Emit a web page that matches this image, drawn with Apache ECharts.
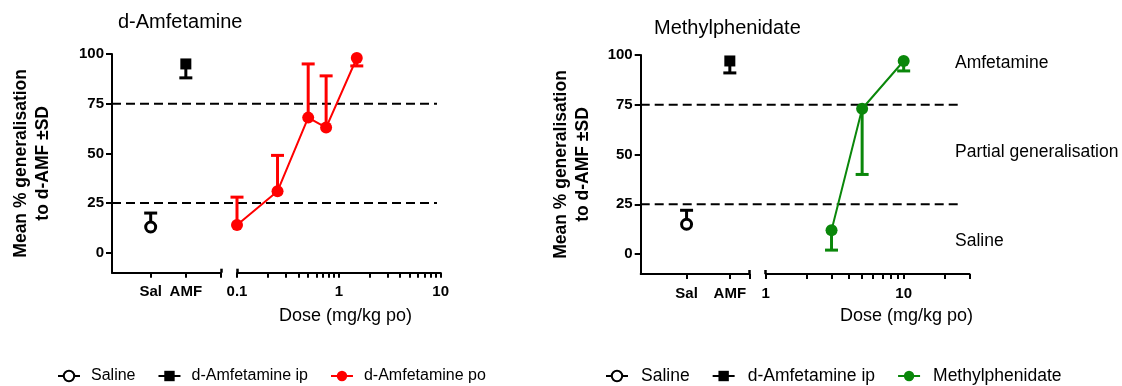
<!DOCTYPE html>
<html><head><meta charset="utf-8">
<script src="https://cdn.jsdelivr.net/npm/echarts@6/dist/echarts.min.js"></script>
<style>html,body{margin:0;padding:0;background:#fff}#c{width:1122px;height:386px}</style>
</head><body><div id="c"></div>
<script>
// ---- data ----
const controlCats = ['Sal', 'AMF'];
const leftControlMean = [13, 95];
const leftControlErrEnd = [20, 88];
const amfPoDoses = [0.1, 0.25, 0.5, 0.75, 1.5];
const amfPoMean = [14, 31, 68, 63, 98];
const amfPoErrEnd = [28, 49, 95, 89, 94];
const rightControlMean = [15, 97];
const rightControlErrEnd = [22, 91];
const mphDoses = [3, 5, 10];
const mphMean = [12, 73, 97];
const mphErrEnd = [2, 40, 92];
const thresholds = [25, 75];
const yTicks = [0, 25, 50, 75, 100];
const leftLogTicks = [0.1, 0.2, 0.3, 0.4, 0.5, 0.6, 0.7, 0.8, 0.9, 1, 2, 3, 4, 5, 6, 7, 8, 9, 10];
const leftLogLabels = [0.1, 1, 10];
const rightLogTicks = [1, 2, 3, 4, 5, 6, 7, 8, 9, 10, 20, 30];
const rightLogLabels = [1, 10];
const zoneLabels = ['Amfetamine', 'Partial generalisation', 'Saline'];
const yName = 'Mean % generalisation\nto d-AMF ±SD';
const xName = 'Dose (mg/kg po)';

const FONT = '"Liberation Sans", Arial, Helvetica, sans-serif';
const RED = '#ff0000';
const GREEN = '#0a870a';

const option = {
  animation: false, backgroundColor: '#fff',
  grid: [], xAxis: [], yAxis: [], series: [], legend: [], graphic: []
};

const axisLineStyle = { color: '#000', width: 2 };
const tickLabel = { color: '#000', fontWeight: 'bold', fontSize: 15, fontFamily: FONT };

function errorSeries(xIdx, yIdx, xs, means, ends, color) {
  return {
    type: 'custom', xAxisIndex: xIdx, yAxisIndex: yIdx, z: 1, silent: true,
    data: xs.map((x, i) => [x, means[i], ends[i]]),
    renderItem(params, api) {
      const p0 = api.coord([api.value(0), api.value(1)]);
      const p1 = api.coord([api.value(0), api.value(2)]);
      const hw = 6.5;
      return { type: 'group', children: [
        { type: 'line', shape: { x1: p0[0], y1: p0[1], x2: p1[0], y2: p1[1] }, style: { stroke: color, lineWidth: 3 } },
        { type: 'line', shape: { x1: p1[0] - hw, y1: p1[1], x2: p1[0] + hw, y2: p1[1] }, style: { stroke: color, lineWidth: 3 } }
      ] };
    }
  };
}

function addPanel(c) {
  const g = option.grid.length;
  const xa = option.xAxis.length;
  const ya = option.yAxis.length;
  option.grid.push({ left: c.catLeft, top: c.top, width: c.catWidth, height: c.height });
  option.grid.push({ left: c.logLeft, top: c.top, width: c.logWidth, height: c.height });
  option.grid.push({ left: c.catLeft, top: c.top, width: c.ovWidth, height: c.height });

  // category-like control segment
  option.xAxis.push({ type: 'value', gridIndex: g, min: c.catMin, max: c.catMax, position: 'bottom',
    axisLine: { show: true, onZero: false, lineStyle: axisLineStyle },
    axisTick: { show: true, customValues: [1, 2, c.catMax], length: 5, lineStyle: { color: '#000', width: 2 } },
    axisLabel: { show: true, customValues: [1, 2], margin: 12, formatter: v => controlCats[Math.round(v) - 1], ...tickLabel },
    splitLine: { show: false } });
  option.xAxis.push({ type: 'value', gridIndex: g, min: c.catMin, max: c.catMax, position: 'bottom',
    axisLine: { show: false, onZero: false },
    axisTick: { show: true, inside: true, customValues: [c.catMax], length: 4, lineStyle: { color: '#000', width: 2.5 } },
    axisLabel: { show: false }, splitLine: { show: false } });
  // log dose segment
  option.xAxis.push({ type: 'log', logBase: 10, gridIndex: g + 1, min: c.logMin, max: c.logMax, position: 'bottom',
    axisLine: { show: true, onZero: false, lineStyle: axisLineStyle },
    axisTick: { show: true, customValues: c.logTicks, length: 5, lineStyle: { color: '#000', width: 2 } },
    axisLabel: { show: true, customValues: c.logLabels, margin: 12, formatter: v => String(+v.toFixed(3)), ...tickLabel },
    minorTick: { show: false }, splitLine: { show: false } });
  option.xAxis.push({ type: 'log', logBase: 10, gridIndex: g + 1, min: c.logMin, max: c.logMax, position: 'bottom',
    axisLine: { show: false, onZero: false },
    axisTick: { show: true, inside: true, customValues: [c.logMin], length: 4, lineStyle: { color: '#000', width: 2.5 } },
    axisLabel: { show: false }, splitLine: { show: false } });
  // overlay for threshold lines
  option.xAxis.push({ type: 'value', gridIndex: g + 2, min: 0, max: 1, show: false });

  option.yAxis.push({ type: 'value', gridIndex: g, min: -10, max: 100,
    axisLine: { show: true, onZero: false, lineStyle: axisLineStyle },
    axisTick: { show: true, customValues: yTicks, length: 6, lineStyle: { color: '#000', width: 2 } },
    axisLabel: { show: true, customValues: yTicks, margin: 8, ...tickLabel },
    splitLine: { show: false },
    name: yName, nameLocation: 'middle', nameRotate: 90, nameGap: c.nameGap,
    nameTextStyle: { color: '#000', fontWeight: 'bold', fontSize: 17.5, lineHeight: 22, fontFamily: FONT } });
  option.yAxis.push({ type: 'value', gridIndex: g + 1, min: -10, max: 100, show: false });
  option.yAxis.push({ type: 'value', gridIndex: g + 2, min: -10, max: 100, show: false });

  // threshold dashed lines
  thresholds.forEach(t => option.series.push({
    type: 'line', xAxisIndex: xa + 4, yAxisIndex: ya + 2, silent: true, symbol: 'none', z: 0,
    data: [[0, t], [1, t]], lineStyle: { color: '#000', width: 2, type: [9, 5] }
  }));

  // error bars
  option.series.push(errorSeries(xa, ya, [1, 2], c.ctrlMean, c.ctrlErr, '#000'));
  option.series.push(errorSeries(xa + 2, ya + 1, c.doses, c.mean, c.errEnd, c.color));

  // control points
  option.series.push({ name: 'Saline', type: 'line', xAxisIndex: xa, yAxisIndex: ya, z: 3,
    data: [[1, c.ctrlMean[0]]], symbol: 'circle', symbolSize: 10,
    itemStyle: { color: '#fff', borderColor: '#000', borderWidth: 3 }, lineStyle: { color: '#000', width: 3 } });
  option.series.push({ name: 'd-Amfetamine ip', type: 'line', xAxisIndex: xa, yAxisIndex: ya, z: 3,
    data: [[2, c.ctrlMean[1]]], symbol: 'rect', symbolSize: 11,
    itemStyle: { color: '#000' }, lineStyle: { color: '#000', width: 3 } });
  // dose-response
  option.series.push({ name: c.drugName, type: 'line', xAxisIndex: xa + 2, yAxisIndex: ya + 1, z: 3,
    data: c.doses.map((d, i) => [d, c.mean[i]]), symbol: 'circle', symbolSize: 12,
    itemStyle: { color: c.color }, lineStyle: { color: c.color, width: 2 } });

  option.legend.push({ left: c.legendLeft, top: c.legendTop, padding: 0, itemWidth: 22, itemHeight: 13, itemGap: c.legendGap,
    data: ['Saline', 'd-Amfetamine ip', c.drugName], selectedMode: false,
    textStyle: { color: '#000', fontSize: c.legendFont, fontFamily: FONT, padding: [0, 0, 0, c.legendPad] } });

  option.graphic.push({ type: 'text', x: c.titleX, y: c.titleY,
    style: { text: c.title, fill: '#000', fontSize: 20, fontFamily: FONT, verticalAlign: 'middle' } });
  option.graphic.push({ type: 'text', x: c.xNameX, y: 316,
    style: { text: xName, fill: '#000', fontSize: 18, fontFamily: FONT, verticalAlign: 'middle' } });
}

addPanel({ top: 54, height: 218.7, catLeft: 112, catWidth: 109, catMin: -0.1, catMax: 3,
  logLeft: 237, logWidth: 203.7, logMin: 0.1, logMax: 10, logTicks: leftLogTicks, logLabels: leftLogLabels,
  ovWidth: 325, nameGap: 58, ctrlMean: leftControlMean, ctrlErr: leftControlErrEnd,
  doses: amfPoDoses, mean: amfPoMean, errEnd: amfPoErrEnd, color: RED, drugName: 'd-Amfetamine po',
  legendLeft: 57, legendTop: 368, legendGap: 22, legendFont: 16, legendPad: 6,
  title: 'd-Amfetamine', titleX: 118, titleY: 22, xNameX: 279 });

addPanel({ top: 55, height: 219, catLeft: 640.7, catWidth: 108.6, catMin: -0.06, catMax: 2.45,
  logLeft: 765.7, logWidth: 203.8, logMin: 1, logMax: 30, logTicks: rightLogTicks, logLabels: rightLogLabels,
  ovWidth: 322, nameGap: 47, ctrlMean: rightControlMean, ctrlErr: rightControlErrEnd,
  doses: mphDoses, mean: mphMean, errEnd: mphErrEnd, color: GREEN, drugName: 'Methylphenidate',
  legendLeft: 605, legendTop: 367, legendGap: 22, legendFont: 17.5, legendPad: 8,
  title: 'Methylphenidate', titleX: 654, titleY: 28, xNameX: 840 });

const zoneY = [63, 152, 241];
zoneLabels.forEach((t, i) => option.graphic.push({ type: 'text', x: 955, y: zoneY[i],
  style: { text: t, fill: '#000', fontSize: 17.5, fontFamily: FONT, verticalAlign: 'middle' } }));

const chart = echarts.init(document.getElementById('c'), null, { renderer: 'canvas' });
chart.setOption(option);
</script>
</body></html>
